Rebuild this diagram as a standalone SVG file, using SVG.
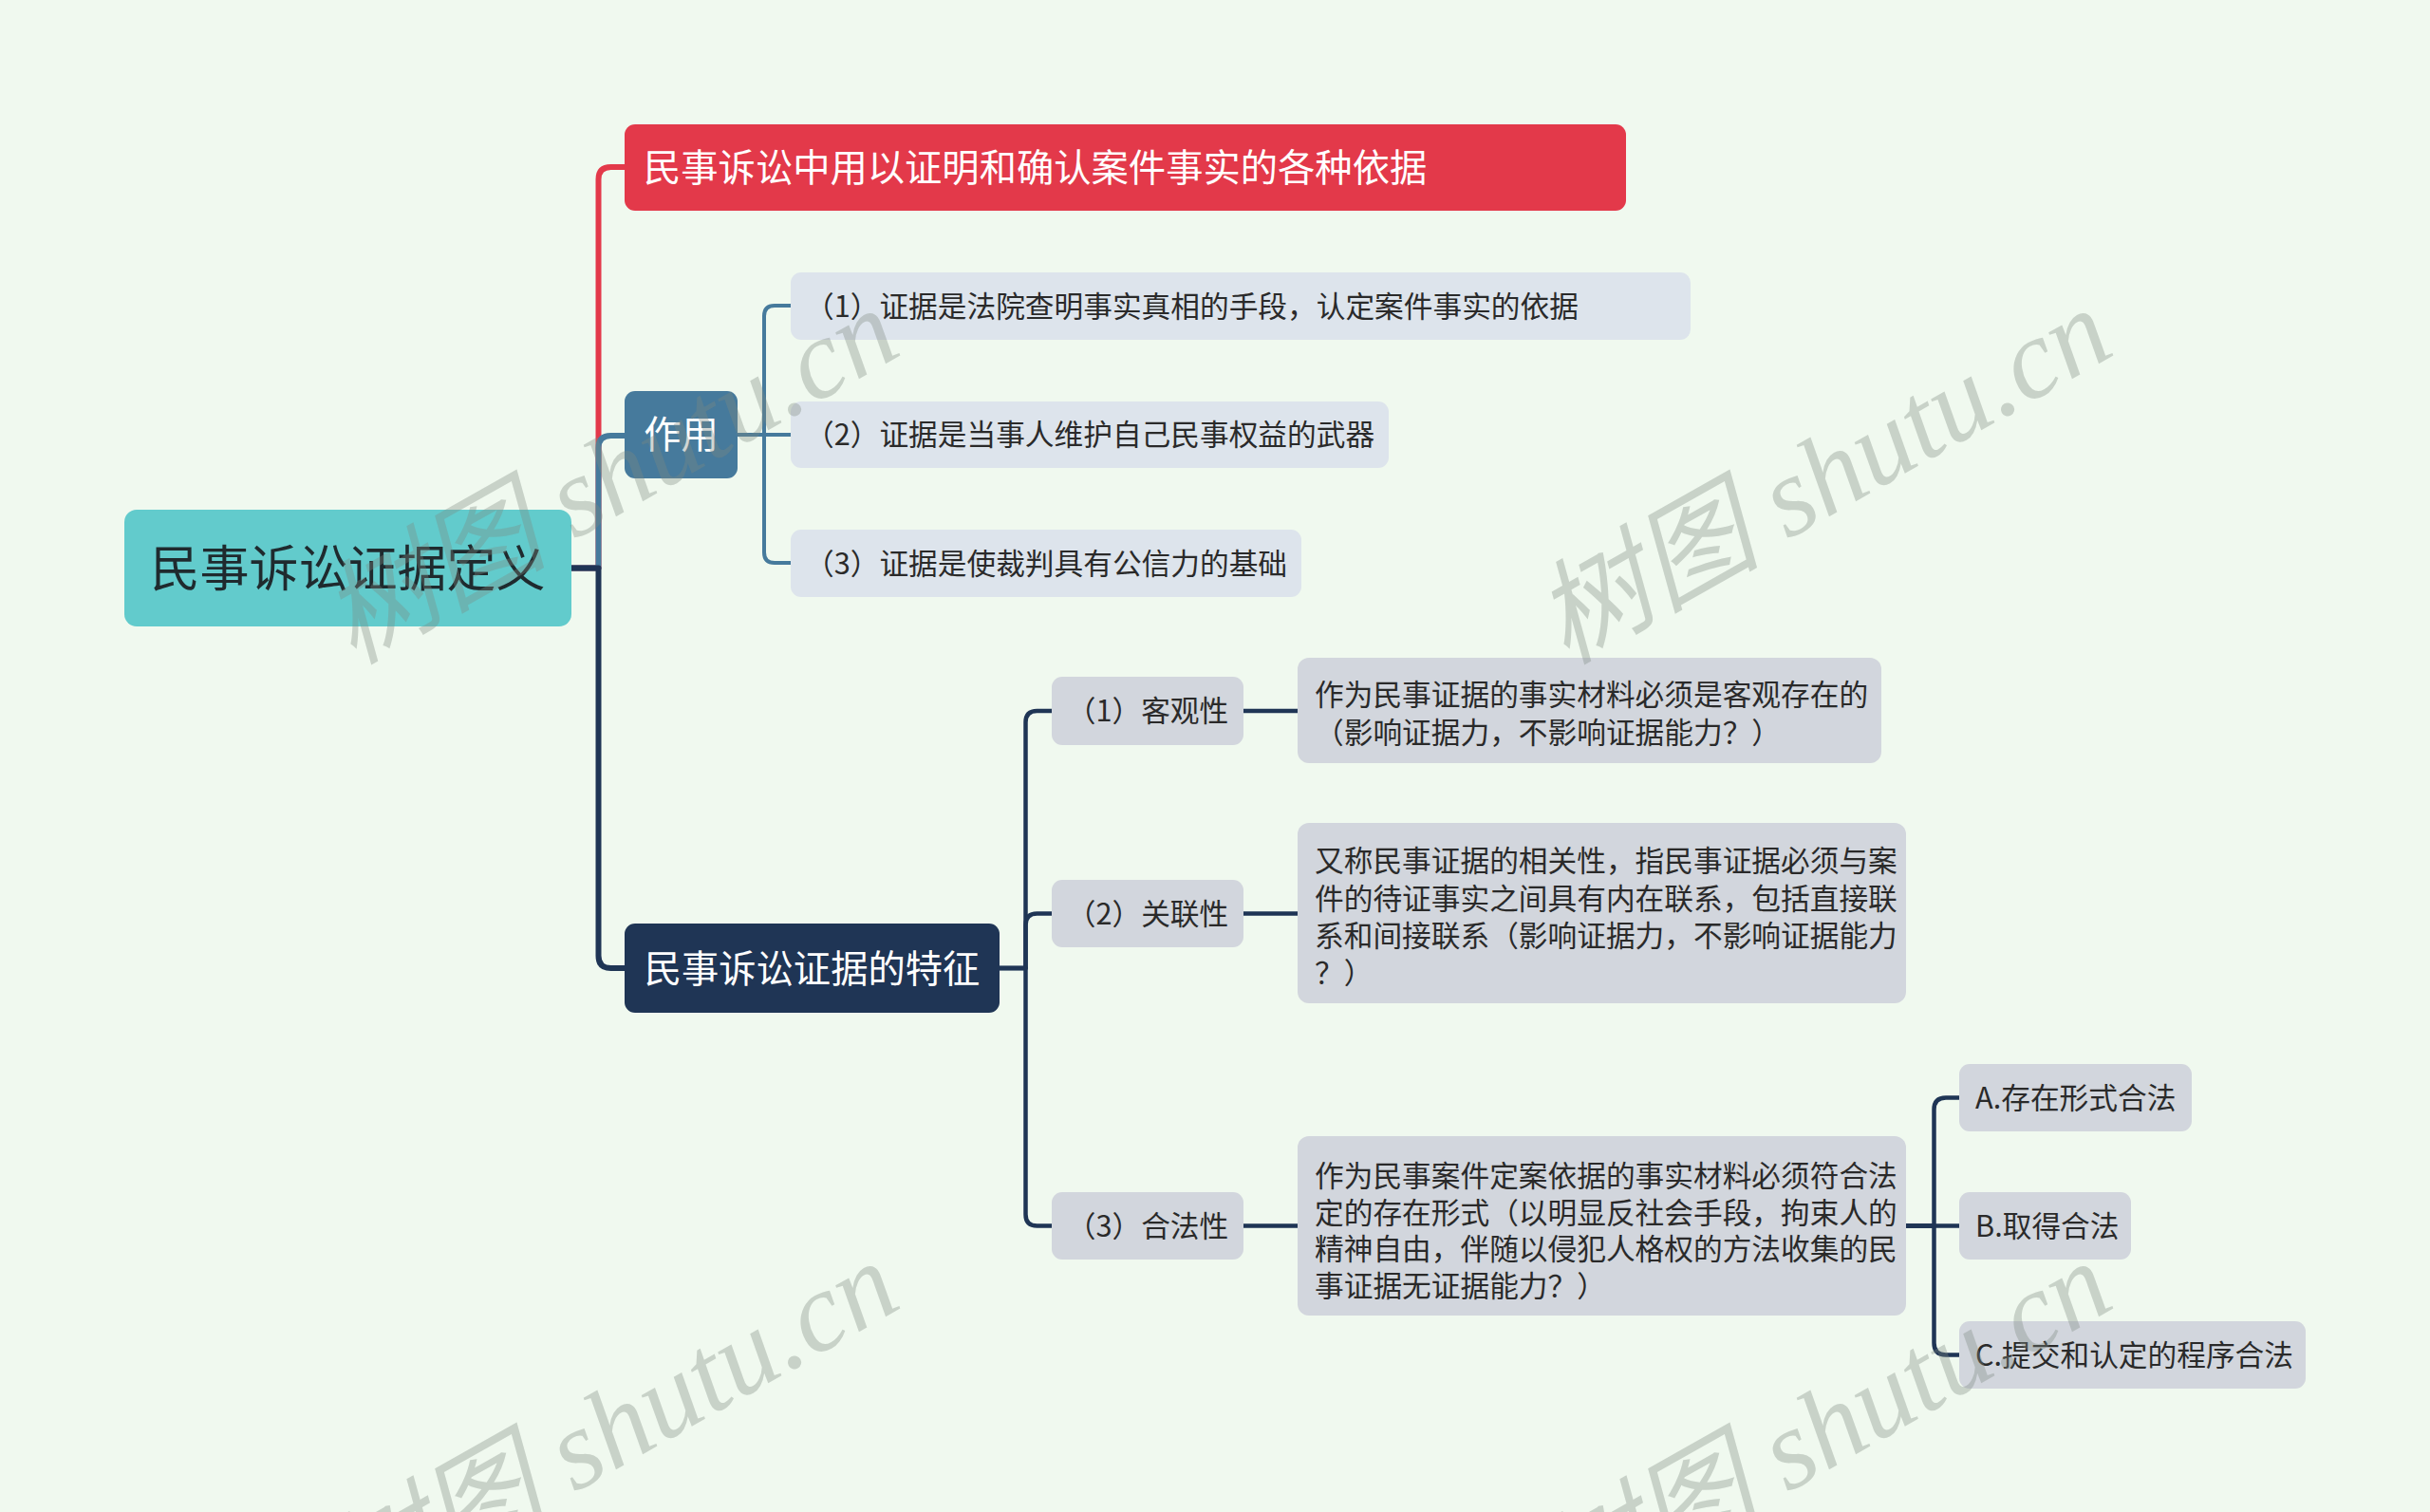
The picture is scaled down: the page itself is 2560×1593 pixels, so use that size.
<svg xmlns="http://www.w3.org/2000/svg" width="2560" height="1593" viewBox="0 0 2560 1593">
<style>
text{font-family:"Noto Sans CJK SC","Noto Sans",sans-serif;}
.t39{font-size:39.3px;fill:#ffffff;}
.t30{font-size:30.7px;fill:#2a2a2a;}
.c1{fill:none;stroke-width:6;stroke-linejoin:round;}
.c2{fill:none;stroke-width:4;stroke-linejoin:round;}
.c3{fill:none;stroke-width:4.5;stroke-linejoin:round;}
.sub{fill:#dde4ec;}
.feat{fill:#d2d6dd;}
.wm{font-family:"Liberation Serif","Noto Sans CJK SC",serif;font-style:italic;font-size:119px;fill:#7f8a82;fill-opacity:0.35;}
</style>
<rect x="0" y="0" width="2560" height="1593" fill="#f0f9ef"/>

<g id="connectors">
  <path class="c1" stroke="#e3394a" d="M602 598.5 H630.5 V189 Q630.5 176 643.5 176 H658"/>
  <path class="c1" stroke="#467a9c" d="M602 598.5 H630.5 V472 Q630.5 459 643.5 459 H658"/>
  <path class="c1" stroke="#1f3555" d="M602 598.5 H630.5 V1007 Q630.5 1020 643.5 1020 H658"/>
  <path class="c2" stroke="#467a9c" d="M777 458 H805 V333 Q805 322 816 322 H833"/>
  <path class="c2" stroke="#467a9c" d="M777 458 H833"/>
  <path class="c2" stroke="#467a9c" d="M777 458 H805 V582 Q805 593 816 593 H833"/>
  <path class="c3" stroke="#1f3555" d="M1053 1020 H1080.5 V761 Q1080.5 749 1092.5 749 H1108"/>
  <path class="c3" stroke="#1f3555" d="M1053 1020 H1080.5 V974.5 Q1080.5 962.5 1092.5 962.5 H1108"/>
  <path class="c3" stroke="#1f3555" d="M1053 1020 H1080.5 V1279.5 Q1080.5 1291.5 1092.5 1291.5 H1108"/>
  <path class="c3" stroke="#1f3555" d="M1310 749 H1367"/>
  <path class="c3" stroke="#1f3555" d="M1310 962.5 H1367"/>
  <path class="c3" stroke="#1f3555" d="M1310 1291.5 H1367"/>
  <path class="c3" stroke="#1f3555" d="M2008 1291.5 H2037.5 V1169 Q2037.5 1156.5 2050 1156.5 H2064"/>
  <path class="c3" stroke="#1f3555" d="M2008 1291.5 H2064"/>
  <path class="c3" stroke="#1f3555" d="M2008 1291.5 H2037.5 V1415 Q2037.5 1427.5 2050 1427.5 H2064"/>
</g>

<g id="root">
  <rect x="131" y="537" width="471" height="123" rx="13" fill="#62cbcc"/>
  <text x="366.5" y="618" font-size="52" fill="#1f2a2e" text-anchor="middle">民事诉讼证据定义</text>
</g>

<g id="definition">
  <rect x="658" y="131" width="1055" height="91" rx="11" fill="#e3394a"/>
  <text class="t39" x="678" y="190.5">民事诉讼中用以证明和确认案件事实的各种依据</text>
</g>

<g id="role">
  <rect x="658" y="412" width="119" height="92" rx="11" fill="#467a9c"/>
  <text class="t39" x="717.5" y="472" text-anchor="middle">作用</text>
</g>

<g id="role-1">
  <rect class="sub" x="833" y="287" width="948" height="71" rx="11"/>
  <text class="t30" x="848" y="333.5">（1）证据是法院查明事实真相的手段，认定案件事实的依据</text>
</g>
<g id="role-2">
  <rect class="sub" x="833" y="423" width="630" height="70" rx="11"/>
  <text class="t30" x="848" y="469">（2）证据是当事人维护自己民事权益的武器</text>
</g>
<g id="role-3">
  <rect class="sub" x="833" y="558" width="538" height="71" rx="11"/>
  <text class="t30" x="848" y="604.5">（3）证据是使裁判具有公信力的基础</text>
</g>

<g id="features">
  <rect x="658" y="973" width="395" height="94" rx="11" fill="#1f3555"/>
  <text class="t39" x="855.5" y="1034.5" text-anchor="middle">民事诉讼证据的特征</text>
</g>

<g id="feature-1">
  <rect class="feat" x="1108" y="713" width="202" height="72" rx="11"/>
  <text class="t30" x="1209" y="760" text-anchor="middle">（1）客观性</text>
</g>
<g id="feature-1-desc">
  <rect class="feat" x="1367" y="693" width="615" height="111" rx="12"/>
  <text class="t30" x="1385" y="742.5">作为民事证据的事实材料必须是客观存在的</text>
  <text class="t30" x="1385" y="783">（影响证据力，不影响证据能力？）</text>
</g>

<g id="feature-2">
  <rect class="feat" x="1108" y="927" width="202" height="71" rx="11"/>
  <text class="t30" x="1209" y="974" text-anchor="middle">（2）关联性</text>
</g>
<g id="feature-2-desc">
  <rect class="feat" x="1367" y="867" width="641" height="190" rx="12"/>
  <text class="t30" x="1385" y="918">又称民事证据的相关性，指民事证据必须与案</text>
  <text class="t30" x="1385" y="957.5">件的待证事实之间具有内在联系，包括直接联</text>
  <text class="t30" x="1385" y="996.5">系和间接联系（影响证据力，不影响证据能力</text>
  <text class="t30" x="1385" y="1036">？）</text>
</g>

<g id="feature-3">
  <rect class="feat" x="1108" y="1256" width="202" height="71" rx="11"/>
  <text class="t30" x="1209" y="1303" text-anchor="middle">（3）合法性</text>
</g>
<g id="feature-3-desc">
  <rect class="feat" x="1367" y="1197" width="641" height="189" rx="12"/>
  <text class="t30" x="1385" y="1250">作为民事案件定案依据的事实材料必须符合法</text>
  <text class="t30" x="1385" y="1288.5">定的存在形式（以明显反社会手段，拘束人的</text>
  <text class="t30" x="1385" y="1327">精神自由，伴随以侵犯人格权的方法收集的民</text>
  <text class="t30" x="1385" y="1365.5">事证据无证据能力？）</text>
</g>

<g id="legal-a">
  <rect class="feat" x="2064" y="1121" width="245" height="71" rx="11"/>
  <text class="t30" x="2081" y="1168">A.存在形式合法</text>
</g>
<g id="legal-b">
  <rect class="feat" x="2064" y="1256" width="181" height="71" rx="11"/>
  <text class="t30" x="2081" y="1303">B.取得合法</text>
</g>
<g id="legal-c">
  <rect class="feat" x="2064" y="1392" width="365" height="71" rx="11"/>
  <text class="t30" x="2081" y="1439">C.提交和认定的程序合法</text>
</g>

<g id="watermarks">
  <text class="wm" text-anchor="end" transform="translate(953 372) rotate(-29.5)">树图 shutu.cn</text>
  <text class="wm" text-anchor="end" transform="translate(2231 372) rotate(-29.5)">树图 shutu.cn</text>
  <text class="wm" text-anchor="end" transform="translate(953 1376) rotate(-29.5)">树图 shutu.cn</text>
  <text class="wm" text-anchor="end" transform="translate(2231 1376) rotate(-29.5)">树图 shutu.cn</text>
</g>
</svg>
